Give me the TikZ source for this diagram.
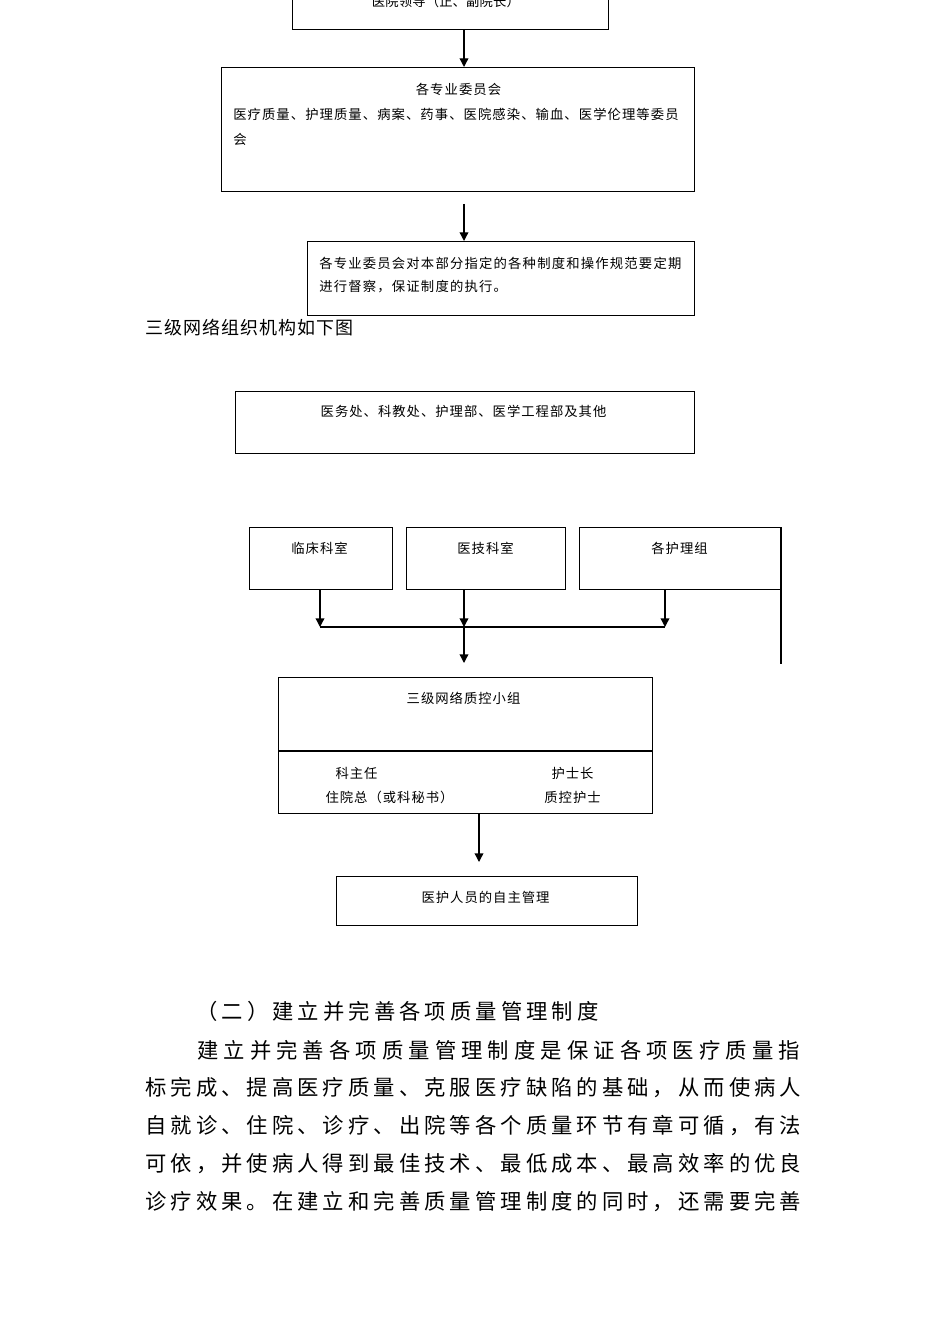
\documentclass[tikz,border=0pt]{standalone}
\usepackage{fontspec}
\newfontfamily\cjk{Noto Sans CJK SC}
\usetikzlibrary{arrows.meta}
\ExplSyntaxOn
\NewDocumentCommand\spc{mm}{\tl_map_inline:nn{#2}{\makebox[#1][l]{##1}}}
\ExplSyntaxOff
\tikzset{
  box/.style={draw, line width=0.8pt, inner sep=0pt, anchor=north west},
  lbl/.style={inner sep=0pt, font=\cjk\fontsize{10pt}{12pt}\selectfont},
  body/.style={inner sep=0pt, anchor=west, font=\cjk\fontsize{16pt}{18pt}\selectfont},
  conn/.style={line width=1pt},
  arr/.style={line width=1pt, -{Triangle[width=6.5pt,length=6.5pt]}}
}
\begin{document}
\begin{tikzpicture}[x=0.75pt,y=-0.75pt]
\useasboundingbox (0,0) rectangle (950,1344);
\clip (0,0) rectangle (950,1344);
% boxes
\node[box, minimum width=237pt, minimum height=44.25pt] (top) at (292,-30) {};
\node[box, minimum width=354.75pt, minimum height=93pt] (com) at (221,67) {};
\node[box, minimum width=290.25pt, minimum height=55.5pt] (sup) at (307,241) {};
\node[box, minimum width=344.25pt, minimum height=46.5pt] (dep) at (235,391) {};
\node[box, minimum width=107.25pt, minimum height=46.5pt] (lc) at (249,527) {};
\node[box, minimum width=119.25pt, minimum height=46.5pt] (yj) at (406,527) {};
\node[box, minimum width=150.75pt, minimum height=46.5pt] (hl) at (579,527) {};
\node[box, minimum width=280.5pt, minimum height=102pt] (qc) at (278,677) {};
\node[box, minimum width=225.75pt, minimum height=36.75pt] (self) at (336,876) {};
% extra right line of nursing box
\coordinate (hlend) at (781,664);
\draw[line width=1.2pt] (hl.north east) -- (hl.north east |- hlend);
% divider in qc box
\coordinate (qcdiv) at (0,751);
\draw[line width=0.8pt] (qc.west |- qcdiv) -- (qc.east |- qcdiv);
% connectors
\coordinate (x1) at (464,0);
\draw[arr] (x1 |- top.south) -- (x1 |- com.north);
\coordinate (s2) at (464,204);
\draw[arr] (s2) -- (s2 |- sup.north);
\coordinate (j1) at (320,627);
\coordinate (j2) at (464,627);
\coordinate (j3) at (665,627);
\coordinate (e1) at (464,663);
\draw[arr] (j1 |- lc.south) -- (j1);
\draw[arr] (j2 |- yj.south) -- (j2);
\draw[arr] (j3 |- hl.south) -- (j3);
\draw[conn] (j1) -- (j3);
\draw[arr] (j2) -- (e1);
\coordinate (x3) at (479,862);
\draw[arr] (x3 |- qc.south) -- (x3);
% box texts
\node[lbl] (t1) at (446,1) {\spc{10.1pt}{医院领导（正、副院长）}};
\node[lbl] (t2) at (459,89) {\spc{10.8pt}{各专业委员会}};
\node[lbl, anchor=west] (t3) at (233,114) {\spc{10.8pt}{医疗质量、护理质量、病案、药事、医院感染、输血、医学伦理等委员}};
\node[lbl, anchor=west] (t4) at (233,139) {\spc{10.8pt}{会}};
\node[lbl, anchor=west] (t5) at (319,263) {\spc{10.9pt}{各专业委员会对本部分指定的各种制度和操作规范要定期}};
\node[lbl, anchor=west] (t6) at (319,287) {\spc{10.9pt}{进行督察，保证制度的执行。}};
\node[inner sep=0pt, anchor=west, font=\cjk\fontsize{13.5pt}{15pt}\selectfont] (t7) at (145,328) {\spc{14.3pt}{三级网络组织机构如下图}};
\node[lbl] (t8) at (464,411) {\spc{10.75pt}{医务处、科教处、护理部、医学工程部及其他}};
\node[lbl] (t9) at (320,548) {\spc{10.75pt}{临床科室}};
\node[lbl] (t10) at (486,548) {\spc{10.75pt}{医技科室}};
\node[lbl] (t11) at (680,548) {\spc{10.75pt}{各护理组}};
\node[lbl] (t12) at (464,698) {\spc{10.75pt}{三级网络质控小组}};
\node[lbl] (t13) at (357,773) {\spc{10.75pt}{科主任}};
\node[lbl] (t14) at (390,797) {\spc{10.75pt}{住院总（或科秘书）}};
\node[lbl] (t15) at (573,773) {\spc{10.75pt}{护士长}};
\node[lbl] (t16) at (573,797) {\spc{10.75pt}{质控护士}};
\node[lbl] (t17) at (486,897) {\spc{10.75pt}{医护人员的自主管理}};
% body text
\node[body] (h1) at (196,1011) {\spc{19.05pt}{（二）建立并完善各项质量管理制度}};
\node[body] (p1) at (197,1050) {\spc{19.82pt}{建立并完善各项质量管理制度是保证各项医疗质量指}};
\node[body] (p2) at (145,1088) {\spc{19.04pt}{标完成、提高医疗质量、克服医疗缺陷的基础，从而使病人}};
\node[body] (p3) at (145,1126) {\spc{19.04pt}{自就诊、住院、诊疗、出院等各个质量环节有章可循，有法}};
\node[body] (p4) at (145,1164) {\spc{19.04pt}{可依，并使病人得到最佳技术、最低成本、最高效率的优良}};
\node[body] (p5) at (145,1202) {\spc{19.04pt}{诊疗效果。在建立和完善质量管理制度的同时，还需要完善}};
\end{tikzpicture}
\end{document}
